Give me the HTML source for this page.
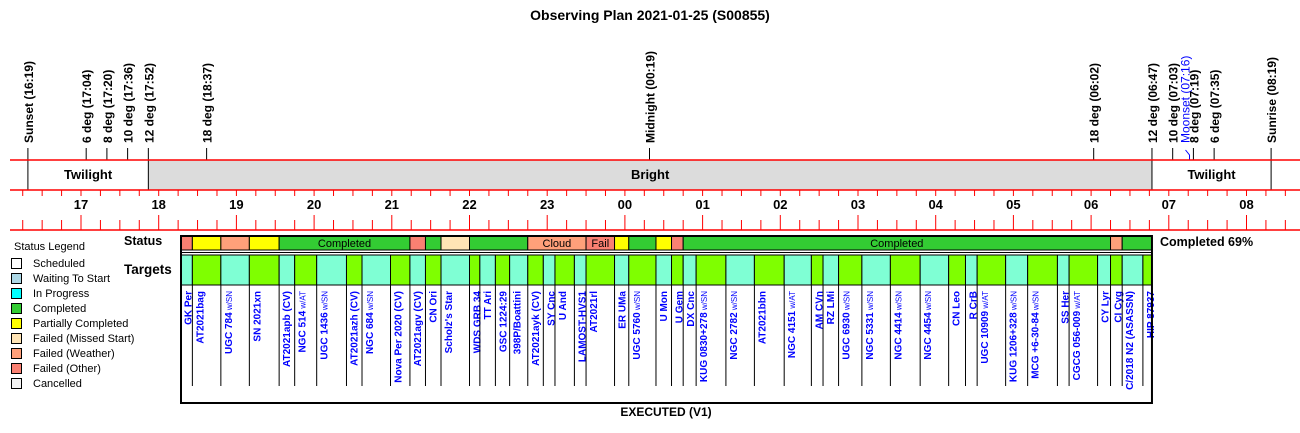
<!DOCTYPE html>
<html><head><meta charset="utf-8"><style>
body{margin:0;background:#fff;}
svg{display:block;font-family:"Liberation Sans",Arial,sans-serif;}
</style></head><body>
<svg id="c" width="1300" height="433" viewBox="0 0 1300 433">
<text x="650" y="20" text-anchor="middle" font-size="14" font-weight="bold">Observing Plan 2021-01-25 (S00855)</text>
</svg>
<script>
// ---- data ----
const hourLabels = ["17","18","19","20","21","22","23","00","01","02","03","04","05","06","07","08"];
const eventNames = ["Sunset (16:19)","6 deg (17:04)","8 deg (17:20)","10 deg (17:36)","12 deg (17:52)","18 deg (18:37)","Midnight (00:19)","18 deg (06:02)","12 deg (06:47)","10 deg (07:03)","Moonset (07:16)","8 deg (07:19)","6 deg (07:35)","Sunrise (08:19)"];
const eventTimes = ["16:19","17:04","17:20","17:36","17:52","18:37","00:19","06:02","06:47","07:03","07:16","07:19","07:35","08:19"];
const statusStarts = ["18:17","18:26","18:48","19:10","19:33","21:14","21:26","21:38","22:00","22:45","23:30","23:52","00:03","00:24","00:36","00:45","06:15","06:24"];
const statusEnd = "06:47";
const statusKinds = ["other","partial","weather","partial","completed","other","completed","missed","completed","weather","other","partial","completed","partial","other","completed","weather","completed"];
const statusTexts = ["","","","","Completed","","","","","Cloud","Fail","","","","","Completed","",""];
const targetStarts = ["18:17","18:26","18:48","19:10","19:33","19:45","20:02","20:25","20:37","20:59","21:14","21:26","21:38","22:00","22:08","22:20","22:31","22:45","22:57","23:06","23:21","23:30","23:52","00:03","00:24","00:36","00:45","00:55","01:18","01:40","02:03","02:24","02:33","02:45","03:03","03:25","03:48","04:10","04:23","04:32","04:54","05:11","05:34","05:43","06:05","06:15","06:24","06:40"];
const targetEnd = "06:47";
const targetNames = ["GK Per","AT2021bag","UGC 784 w/SN","SN 2021xn","AT2021apb (CV)","NGC 514 w/AT","UGC 1436 w/SN","AT2021azh (CV)","NGC 684 w/SN","Nova Per 2020 (CV)","AT2021agv (CV)","CN Ori","Scholz's Star","WDS GRB 34","TT Ari","GSC 1224:29","398P/Boattini","AT2021ayk (CV)","SY Cnc","U And","LAMOST-HVS1","AT2021rl","ER UMa","UGC 5760 w/SN","U Mon","U Gem","DX Cnc","KUG 0830+278 w/SN","NGC 2782 w/SN","AT2021bbn","NGC 4151 w/AT","AM CVn","RZ LMi","UGC 6930 w/SN","NGC 5331 w/SN","NGC 4414 w/SN","NGC 4454 w/SN","CN Leo","R CrB","UGC 10909 w/AT","KUG 1206+328 w/SN","MCG +6-30-84 w/SN","SS Her","CGCG 056-009 w/AT","CY Lyr","CI Cyg","C/2018 N2 (ASASSN)","HIP 87937"];
const legendNames = ["Scheduled","Waiting To Start","In Progress","Completed","Partially Completed","Failed (Missed Start)","Failed (Weather)","Failed (Other)","Cancelled"];
const legendColors = ["#ffffff","#add8e6","#00ffff","#33cc33","#ffff00","#ffe4b5","#ffa07a","#fa8072","#f4f4f4"];
const completedPct = 69;

// ---- helpers ----
const NS="http://www.w3.org/2000/svg";
const svg=document.getElementById('c');
const statusColor={other:"#fa8072",partial:"#ffff00",weather:"#ffa07a",completed:"#33cc33",missed:"#ffe4b5"};
function hrs(t){let [h,m]=t.split(':').map(Number);if(h<12)h+=24;return h+m/60;}
function xs(h){return 81+(h-17)*77.7;}
function xt(t){return xs(hrs(t));}
function mk(tag,attrs,parent){const e=document.createElementNS(NS,tag);for(const k in attrs)e.setAttribute(k,attrs[k]);(parent||svg).appendChild(e);return e;}
function line(x1,y1,x2,y2,stroke,w){return mk('line',{x1,y1,x2,y2,stroke,'stroke-width':w||1});}

// twilight band
const bright=mk('rect',{x:xt("17:52"),y:160,width:xt("06:47")-xt("17:52"),height:30,fill:"#dcdcdc"});


[["Twilight",(xt("16:19")+xt("17:52"))/2],["Bright",(xt("17:52")+xt("06:47"))/2],["Twilight",(xt("06:47")+xt("08:19"))/2]].forEach(([t,x])=>{
  const e=mk('text',{x,y:179,'text-anchor':'middle','font-size':13,'font-weight':'bold'});e.textContent=t;
  
  
});
["16:19","17:52","06:47","08:19"].forEach(t=>line(xt(t),160,xt(t),190,"#000"));

// events
eventNames.forEach((n,i)=>{
  const x=xt(eventTimes[i]);const moon=n.startsWith("Moonset");
  const col=moon?"#0000ff":"#000";
  if(moon){mk('polyline',{points:`${x-4},150 ${x},155 ${x},160`,fill:'none',stroke:col});}
  else line(x,148,x,160,col);
  const bx=moon?x:x+5, by=143;
  const e=mk('text',{x:bx,y:by,transform:`rotate(-90 ${bx} ${by})`,'font-size':12,'font-weight':moon?'normal':'bold',fill:col});
  e.textContent=n;
  
  
});

// hour axis
for(let q=0;;q++){const h=16.25+q*0.25;const x=xs(h);if(x>1300)break;if(x<10)continue;
  line(x,190,x,196,"#ff0000");
  const isH=Math.abs(h-Math.round(h))<1e-6;
  line(x,isH?215:220,x,230,"#ff0000");}
hourLabels.forEach((l,i)=>{const e=mk('text',{x:xs(17+i),y:209,'text-anchor':'middle','font-size':13,'font-weight':'bold'});e.textContent=l;
  
  });
[160,190,230].forEach(y=>line(10,y,1300,y,"#ff0000",1.5));

// status row
statusStarts.forEach((s,i)=>{
  const x1=xt(s),x2=xt(statusStarts[i+1]||statusEnd);
  const r=mk('rect',{x:x1,y:236,width:x2-x1,height:14,fill:statusColor[statusKinds[i]],stroke:"#000"});
  
  
  if(statusTexts[i]){const t=mk('text',{x:(x1+x2)/2,y:247,'text-anchor':'middle','font-size':11});t.textContent=statusTexts[i];
    
    }
});
// targets
targetStarts.forEach((s,i)=>{
  const x1=xt(s),x2=xt(targetStarts[i+1]||targetEnd);
  const r=mk('rect',{x:x1,y:255,width:x2-x1,height:30,fill:i%2?"#7fff00":"#7fffd4",stroke:"#000"});
  
  
  if(i>0)line(x1,285,x1,386,"#000");
  const tx=x1+11;
  const t=mk('text',{x:tx,y:291,transform:`rotate(-90 ${tx} 291)`,'text-anchor':'end','font-size':10,'font-weight':'bold',fill:"#0000ff"});
  const name=targetNames[i];
  const k=name.indexOf(" w/");
  if(k>=0){
    const a=mk('tspan',{},t);a.textContent=name.slice(0,k);
    const b=mk('tspan',{'font-size':8,'font-weight':'normal'},t);b.textContent=name.slice(k);
  } else t.textContent=name;
  
  
});
const box=mk('rect',{x:181,y:236,width:xt(targetEnd)-181,height:167,fill:'none',stroke:'#000','stroke-width':2});


line(181,252.5,xt(targetEnd),252.5,"#000");
[["Status",124,245,12.5],["Targets",124,274,13.5]].forEach(([s,x,y,f])=>{const t=mk('text',{x,y,'font-size':f,'font-weight':'bold'});t.textContent=s;
  
  });
const cp=mk('text',{x:1160,y:246,'font-size':12.5,'font-weight':'bold'});cp.textContent="Completed "+completedPct+"%";


const ex=mk('text',{x:666,y:416,'text-anchor':'middle','font-size':12,'font-weight':'bold'});ex.textContent="EXECUTED (V1)";



// legend
const lt=mk('text',{x:14,y:250,'font-size':11});lt.textContent="Status Legend";


legendNames.forEach((n,i)=>{
  const y=258+i*15;
  const r=mk('rect',{x:11.5,y:y+0.5,width:10,height:10,fill:legendColors[i],stroke:'#000'});
  
  
  const t=mk('text',{x:33,y:y+9,'font-size':11});t.textContent=n;
  
  
});
</script>
</body></html>
